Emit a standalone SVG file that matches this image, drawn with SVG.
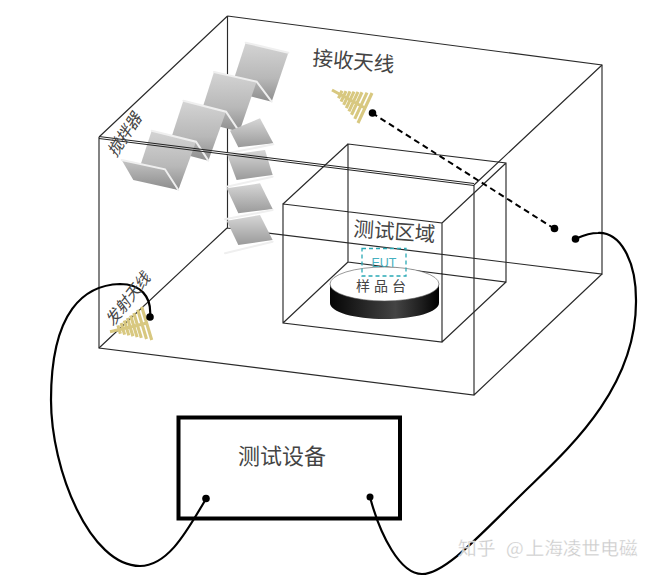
<svg xmlns="http://www.w3.org/2000/svg" width="654" height="578" viewBox="0 0 654 578">
<style>
.b{stroke:#2a2a2a;stroke-width:1.150;fill:none}
.t{font-family:"Noto Sans CJK SC","Liberation Sans",sans-serif;fill:#444}
.rod{stroke:#d8c880;stroke-width:3.100;fill:none}
.cable{stroke:#000;stroke-width:2.200;fill:none}
.dot{fill:#000}
.up{fill:url(#pu)}
.lo{fill:url(#pl)}
.ve{fill:url(#pv)}
.ed{stroke:#efefef;stroke-width:6;fill:none;stroke-linecap:round}
</style>
<defs>
<linearGradient id="pu" x1="0" y1="0" x2="0" y2="1"><stop offset="0" stop-color="#d4d4d4"/><stop offset=".6" stop-color="#b8b8b8"/><stop offset="1" stop-color="#8e8e8e"/></linearGradient>
<linearGradient id="pl" x1="0" y1="0" x2="0" y2="1"><stop offset="0" stop-color="#c4c4c4"/><stop offset="1" stop-color="#8c8c8c"/></linearGradient>
<linearGradient id="pv" x1="0" y1="0" x2="0" y2="1"><stop offset="0" stop-color="#d6d6d6"/><stop offset="1" stop-color="#9a9a9a"/></linearGradient>
<linearGradient id="cyl" x1="0" y1="0" x2="1" y2="0"><stop offset="0" stop-color="#050505"/><stop offset=".6" stop-color="#444"/><stop offset=".85" stop-color="#1c1c1c"/><stop offset="1" stop-color="#000"/></linearGradient>
</defs>
<rect width="654" height="578" fill="#fff"/>

<g id="chamber-back">
<path class="b" d="M227.500 16L602 65V274L227 228M227.500 16V228M227.500 16L99 137M227 228L99 348"/>
</g>

<g id="test-zone">
<path class="b" d="M283 204L442 223V342L283 323ZM348 144L506 163V282L348 262ZM348 144V262M283 204L348 144M442 223L506 163M442 342L506 282M283 323L348 262"/>
</g>

<g id="stirrer" transform="translate(90 10) scale(.33333)">
<path class="up" d="M467 98L595 128L545 275L420 243Z"/>
<path class="ed" d="M467 98L595 128"/>
<path class="up" d="M372 186L500 215L448 365L325 333Z"/>
<path class="ed" d="M372 186L500 215L545 275"/>
<path class="up" d="M280 272L408 305L355 452L232 420Z"/>
<path class="ed" d="M280 272L408 305L448 365"/>
<path class="up" d="M185 362L318 395L265 540L140 500Z"/>
<path class="lo" d="M95 450L225 478L265 540L130 510Z"/>
<path class="ed" d="M185 362L318 395L355 452M95 450L225 478L265 540"/>
<path class="ve" d="M420 362L510 325L550 400L445 412Z"/>
<path class="ed" d="M412 430L550 403"/>
<path class="ve" d="M412 436L525 420L548 495L440 510Z"/>
<path class="ed" d="M410 530L548 500"/>
<path class="ve" d="M410 535L510 520L548 597L445 610Z"/>
<path class="ed" d="M405 628L548 600"/>
<path class="ve" d="M410 632L510 615L548 690L445 705Z"/>
<path class="ed" d="M405 730L548 695"/>
</g>

<g id="chamber-front">
<path class="b" d="M99 137V348L474 395V185M474 395L602 274M474 185L602 65"/>
<path d="M99 136.500L474 183.500M99 138.500L474 185.500" fill="none" stroke="#222" stroke-width="1"/>
</g>

<g id="turntable">
<path d="M330 284V303C330 312 354 319 384.500 319C415 319 439 312 439 303V284Z" fill="url(#cyl)"/>
<ellipse cx="384.500" cy="284" rx="54.500" ry="17" fill="#fff" stroke="#555" stroke-width=".6"/>
<text class="t" x="383" y="290.500" font-size="14" text-anchor="middle" letter-spacing="4">样品台</text>
</g>

<g id="eut">
<rect x="362" y="248.500" width="44" height="27.500" fill="none" stroke="#2aa9b5" stroke-width="1.300" stroke-dasharray="4 3"/>
<text x="384" y="267" font-family="Liberation Sans,sans-serif" font-size="12.500" fill="#45b0c0" text-anchor="middle">EUT</text>
</g>

<g id="tx-antenna">
<path class="rod" d="M110 331.700L147 323M117.900 325.400L120.400 333.800M121.100 323L124.600 334.600M124.300 320.500L128.800 335.400M127.400 318L132.900 336.300M130.600 315.500L137.100 337.100M133.800 313L141.300 337.900M137.700 309.800L146.500 339M141.700 306.700L151.700 340"/>
</g>

<g id="rx-antenna">
<path class="rod" d="M332 90L365 108M342 90.750L338.500 98.250M346 91.050L341.100 101.550M350 91.350L343.700 104.850M354 91.650L346.300 108.150M358 91.950L348.900 111.450M362 92.250L351.500 114.750M367 92.600L354.750 118.900M372 93L358 123"/>
</g>

<g id="instrument">
<rect x="178.500" y="417.500" width="221.500" height="101" fill="#fff" stroke="#000" stroke-width="4"/>
<text class="t" x="282" y="464" font-size="22" text-anchor="middle">测试设备</text>
</g>

<g id="connectors">
<path d="M372 113L554 228.500" fill="none" stroke="#000" stroke-width="2" stroke-dasharray="6 4"/>
<path class="cable" d="M150 317C152 296 140 284 120 284C85 285 51 310 51 400C51 470 90 566 140 566C170 566 190 525 206 499"/>
<path class="cable" d="M370 497C380 535 400 574 422 574C445 574 480 535 523 493C565 452 637 390 636 300C636 260 620 232 598 233C588 233 582 236 575 239"/>
<circle class="dot" cx="372.500" cy="113" r="3.800"/>
<circle class="dot" cx="554.500" cy="228.500" r="3.800"/>
<circle class="dot" cx="575.500" cy="239" r="3.800"/>
<circle class="dot" cx="150" cy="317" r="3.800"/>
<circle class="dot" cx="206" cy="498.500" r="3.800"/>
<circle class="dot" cx="370" cy="497" r="3.500"/>
</g>

<g id="labels">
<text class="t" transform="translate(312 65) rotate(5)" font-size="20.500">接收天线</text>
<text class="t" transform="translate(353 236) rotate(4)" font-size="20.500">测试区域</text>
<text class="t" transform="translate(116 158) rotate(-57) skewX(-15)" font-size="16">搅拌器</text>
<text class="t" transform="translate(113 327) rotate(-52) skewX(-15)" font-size="15.500">发射天线</text>
<text y="555" font-family="Noto Sans CJK SC,sans-serif" font-size="18.700" fill="#c9c9c9" stroke="#fff" stroke-width=".3"><tspan x="458">知乎</tspan><tspan x="506">@</tspan><tspan x="525.500">上海凌世电磁</tspan></text>
</g>
</svg>
